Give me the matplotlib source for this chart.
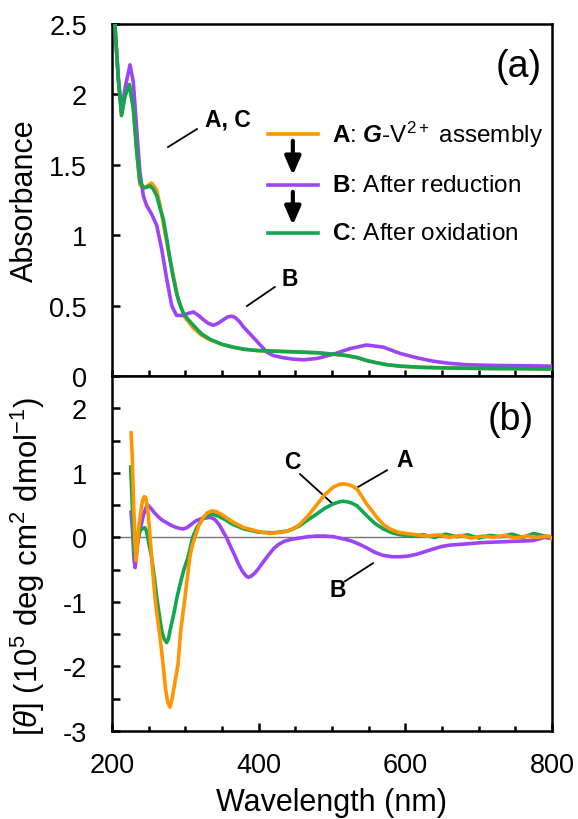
import matplotlib
matplotlib.use("Agg")
import matplotlib.pyplot as plt
from matplotlib.ticker import MultipleLocator, FuncFormatter

plt.rcParams['font.family'] = ['Liberation Sans', 'DejaVu Sans']
plt.rcParams['mathtext.fontset'] = 'custom'
plt.rcParams['mathtext.rm'] = 'Liberation Sans'
plt.rcParams['mathtext.it'] = 'Liberation Sans:italic'
plt.rcParams['mathtext.bf'] = 'Liberation Sans:bold'
plt.rcParams['mathtext.bfit'] = 'Liberation Sans:bold:italic'

# ---------------- data: absorbance (panel a) ----------------
abs_wl_A = [203, 204, 208.6, 213, 217.7, 223.6, 229, 233.7, 238, 242.7, 248, 254, 261, 266, 272,
            281, 290, 299, 311, 322, 334, 350, 365, 380, 400, 430, 456, 480, 502, 520, 535, 547,
            560, 575, 593, 620, 650, 684, 720, 760, 800]
abs_A = [2.7, 2.49, 2.11, 1.85, 1.99, 2.07, 1.91, 1.60, 1.36, 1.33, 1.35, 1.37, 1.32, 1.20, 1.02,
         0.78, 0.55, 0.42, 0.34, 0.29, 0.255, 0.225, 0.205, 0.19, 0.18, 0.175, 0.17, 0.165, 0.155, 0.145, 0.13, 0.11,
         0.095, 0.08, 0.07, 0.062, 0.058, 0.055, 0.053, 0.052, 0.05]

abs_wl_B = [203, 204, 208.6, 213, 218, 224.5, 229, 233.7, 238, 242.7, 247.3, 254, 261, 267.8,
            274.6, 281.4, 288, 297, 304, 311, 318, 324.5, 331, 338, 345, 352, 358, 363, 368, 374, 379,
            388, 397, 404, 411, 420, 433, 447, 461, 480, 502, 525, 547, 570, 593, 615, 638, 660, 684,
            720, 760, 800]
abs_B = [2.7, 2.49, 2.12, 1.88, 2.05, 2.21, 2.09, 1.75, 1.45, 1.28, 1.21, 1.15, 1.07, 0.90,
         0.69, 0.50, 0.43, 0.43, 0.445, 0.455, 0.43, 0.40, 0.375, 0.36, 0.375, 0.40, 0.42, 0.425, 0.415, 0.385, 0.35,
         0.30, 0.25, 0.21, 0.17, 0.145, 0.13, 0.12, 0.115, 0.125, 0.155, 0.195, 0.22, 0.205, 0.16, 0.13, 0.105, 0.09, 0.08,
         0.075, 0.073, 0.07]

abs_wl_C = [203, 204, 208.6, 213, 217.7, 223.6, 229, 233.7, 238, 242.7, 247, 251.8, 256, 261, 265,
            270, 274.5, 279, 283.5, 288, 292.5, 297, 304, 311, 322, 334, 350, 365, 380, 400, 430,
            456, 480, 502, 520, 535, 547, 560, 575, 593, 620, 650, 684, 720, 760, 800]
abs_C = [2.7, 2.49, 2.11, 1.85, 1.99, 2.07, 1.90, 1.59, 1.38, 1.34, 1.34, 1.35, 1.33, 1.28, 1.20,
         1.115, 0.98, 0.83, 0.70, 0.59, 0.51, 0.45, 0.40, 0.36, 0.30, 0.26, 0.225, 0.205, 0.19, 0.18, 0.175,
         0.17, 0.165, 0.155, 0.145, 0.13, 0.11, 0.095, 0.08, 0.07, 0.062, 0.058, 0.055, 0.053, 0.052, 0.05]

# ---------------- data: CD (panel b) ----------------
cd_wl_A = [226, 227.5, 229.5, 231.5, 233, 235, 237, 241.5, 244, 246, 249, 252, 255, 258.6, 262,
           265.5, 269.7, 273, 276, 279, 282, 285, 288, 290, 293.7, 296.5, 299.5, 303, 306, 309,
           313, 318, 324, 330, 336, 342, 350, 358, 366, 380, 400, 415, 433, 445, 456, 467, 479,
           490, 502, 510, 515, 521, 527, 534, 541, 547, 554, 561, 570, 579, 590, 602, 615, 630,
           645, 660, 675, 690, 705, 720, 735, 750, 765, 780, 795, 800]
cd_A = [1.62, 1.3, 0.5, -0.1, -0.36, -0.05, 0.21, 0.57, 0.63, 0.62, 0.40, 0.0, -0.45, -0.93, -1.25,
        -1.55, -1.97, -2.35, -2.55, -2.63, -2.50, -2.30, -2.10, -1.97, -1.45, -1.20, -0.93, -0.60, -0.31, -0.15,
        0.0, 0.17, 0.30, 0.38, 0.41, 0.40, 0.35, 0.29, 0.23, 0.15, 0.09, 0.06, 0.08, 0.12, 0.20, 0.33, 0.50,
        0.66, 0.78, 0.82, 0.83, 0.82, 0.80, 0.75, 0.63, 0.52, 0.42, 0.31, 0.20, 0.13, 0.08, 0.06, 0.04, 0.02,
        0.04, 0.0, 0.03, -0.01, 0.02, 0.0, 0.03, -0.01, 0.02, 0.0, 0.02, -0.02]

cd_wl_B = [226, 228, 230, 231.5, 233, 236, 239, 243, 247, 249, 253, 258, 263, 268, 274, 280, 286,
           292, 297, 302, 308, 315, 322, 328, 334, 340, 346, 351, 356, 362, 367, 372, 378, 383, 386,
           390, 395, 400, 405, 413, 420, 427, 435, 445, 456, 467, 479, 490, 502, 514, 525, 536, 547,
           558, 570, 582, 593, 604, 616, 627, 638, 650, 661, 684, 706, 729, 751, 774, 790, 800]
cd_B = [0.39, 0.1, -0.35, -0.47, -0.3, 0.0, 0.15, 0.35, 0.48, 0.50, 0.45, 0.38, 0.32, 0.27, 0.23, 0.19, 0.16,
        0.14, 0.13, 0.15, 0.20, 0.26, 0.29, 0.30, 0.31, 0.28, 0.20, 0.10, 0.0, -0.15, -0.27, -0.40, -0.53, -0.60, -0.62,
        -0.60, -0.55, -0.48, -0.40, -0.28, -0.18, -0.11, -0.06, -0.03, -0.01, 0.01, 0.02, 0.02, 0.01, -0.02, -0.05, -0.10, -0.16,
        -0.23, -0.28, -0.30, -0.30, -0.29, -0.26, -0.22, -0.18, -0.14, -0.12, -0.10, -0.08, -0.07, -0.06, -0.05, 0.0, -0.02]

cd_wl_C = [225.5, 228, 230, 231.5, 234, 238, 242, 244.7, 247, 250, 254, 257.5, 261, 264.5, 267.8,
           271, 274.5, 277, 279, 284, 288.6, 293, 298, 303.6, 307, 310, 316, 322, 328, 336, 345, 355,
           365, 380, 400, 420, 440, 456, 467, 479, 490, 502, 510, 515, 521, 527, 534, 547, 558, 570,
           582, 593, 610, 625, 640, 655, 670, 685, 700, 715, 730, 745, 760, 775, 790, 800]
cd_C = [1.09, 0.4, -0.2, -0.31, -0.1, 0.1, 0.14, 0.15, 0.1, -0.08, -0.31, -0.6, -0.93, -1.2, -1.45,
        -1.57, -1.63, -1.57, -1.45, -1.2, -0.93, -0.72, -0.5, -0.31, -0.15, 0.0, 0.16, 0.26, 0.33, 0.36, 0.33, 0.27,
        0.2, 0.13, 0.08, 0.07, 0.10, 0.18, 0.27, 0.36, 0.45, 0.52, 0.55, 0.56, 0.55, 0.53, 0.49, 0.34, 0.22, 0.13,
        0.07, 0.04, 0.02, 0.04, 0.0, 0.05, 0.01, 0.04, -0.01, 0.03, 0.01, 0.05, 0.0, 0.06, 0.02, 0.0]

legend_labels = [r"$\mathbf{A}$: $\mathbfit{G}$-V$^{2+}$ assembly",
                 r"$\mathbf{B}$: After reduction",
                 r"$\mathbf{C}$: After oxidation"]

col_A = '#FF9500'
col_B = '#9B45F5'
col_C = '#12A650'

fig = plt.figure(figsize=(5.78, 8.2), dpi=100)
L, W = 112/578, 440/578
ax1 = fig.add_axes([L, 1-377/820, W, 352/820])
ax2 = fig.add_axes([L, 1-732/820, W, 355/820])

lw = 2.6
ax1.plot(abs_wl_A, abs_A, color=col_A, lw=lw, zorder=2)
ax1.plot(abs_wl_B, abs_B, color=col_B, lw=lw, zorder=3)
ax1.plot(abs_wl_C, abs_C, color=col_C, lw=lw, zorder=4)

ax2.axhline(0, color='#777777', lw=1.0, zorder=1)
ax2.plot(cd_wl_B, cd_B, color=col_B, lw=lw, zorder=2)
ax2.plot(cd_wl_C, cd_C, color=col_C, lw=lw, zorder=3)
ax2.plot(cd_wl_A, cd_A, color=col_A, lw=lw, zorder=4)

for ax in (ax1, ax2):
    ax.set_xlim(200, 800)
    for s in ax.spines.values():
        s.set_linewidth(1.8)
    ax.tick_params(direction='in', width=1.8, labelsize=19.5, length=6)
    ax.tick_params(which='minor', direction='in', width=1.8, length=3.5)
    ax.tick_params(axis='y', pad=18)

ax1.set_ylim(0, 2.5)
ax1.yaxis.set_major_locator(MultipleLocator(0.5))
ax1.yaxis.set_major_formatter(FuncFormatter(lambda v, p: f"{v:g}"))
ax1.xaxis.set_major_locator(MultipleLocator(50))
ax1.tick_params(axis='x', labelbottom=False, length=4)
ax1.set_ylabel("Absorbance", fontsize=22)
ax1.yaxis.set_label_coords(-0.163, 0.5)

ax2.set_ylim(-3, 2.5)
ax2.yaxis.set_major_locator(MultipleLocator(1))
ax2.yaxis.set_minor_locator(MultipleLocator(0.5))
ax2.tick_params(axis='y', which='minor', length=6)
ax2.yaxis.set_major_formatter(FuncFormatter(lambda v, p: f"{v:g}" if v <= 2 else ""))
ax2.xaxis.set_major_locator(MultipleLocator(200))
ax2.xaxis.set_minor_locator(MultipleLocator(50))
ax2.tick_params(axis='x', pad=15)
ax2.set_xlabel("Wavelength (nm)", fontsize=22)
ax2.xaxis.set_label_coords(0.5, -0.158)
ax2.set_ylabel(r"[$\theta$] (10$^5$ deg cm$^2$ dmol$^{-1}$)", fontsize=22.5)
ax2.yaxis.set_label_coords(-0.148, 0.465)

# panel labels
ax1.text(0.925, 0.88, "(a)", transform=ax1.transAxes, fontsize=27, ha='center', va='center')
ax2.text(0.905, 0.88, "(b)", transform=ax2.transAxes, fontsize=27, ha='center', va='center')

# custom legend
leg_y = [0.6875, 0.5426, 0.4063]
for yy, c, lab in zip(leg_y, [col_A, col_B, col_C], legend_labels):
    ax1.plot([0.3545, 0.468], [yy, yy], transform=ax1.transAxes, color=c, lw=2.6)
    ax1.text(0.50, yy, lab, transform=ax1.transAxes, fontsize=17.5, ha='left', va='center')
for y0, y1 in [(0.668, 0.571), (0.523, 0.429)]:
    ax1.annotate('', xy=(0.411, y1), xytext=(0.411, y0), xycoords='axes fraction',
                 arrowprops=dict(arrowstyle='-|>,head_length=0.55,head_width=0.24', lw=3.0,
                                 color='black', mutation_scale=20, shrinkA=0, shrinkB=0))

# annotations panel a
ax1.plot([276.4, 315.9], [1.626, 1.754], color='black', lw=1.3)
ax1.text(326.8, 1.825, "A, C", fontsize=16.5, fontweight='bold', ha='left', va='center')
ax1.plot([384, 422], [0.497, 0.632], color='black', lw=1.3)
ax1.text(431.8, 0.69, "B", fontsize=16.5, fontweight='bold', ha='left', va='center')

# annotations panel b
ax2.plot([456.4, 500], [0.98, 0.53], color='black', lw=1.3)
ax2.text(445.5, 1.17, "C", fontsize=16.5, fontweight='bold', ha='center', va='center')
ax2.plot([535.5, 575], [0.78, 1.04], color='black', lw=1.3)
ax2.text(599.6, 1.2, "A", fontsize=16.5, fontweight='bold', ha='center', va='center')
ax2.plot([517.7, 556], [-0.68, -0.40], color='black', lw=1.3)
ax2.text(508, -0.81, "B", fontsize=16.5, fontweight='bold', ha='center', va='center')

fig.savefig("out.png", dpi=100)
